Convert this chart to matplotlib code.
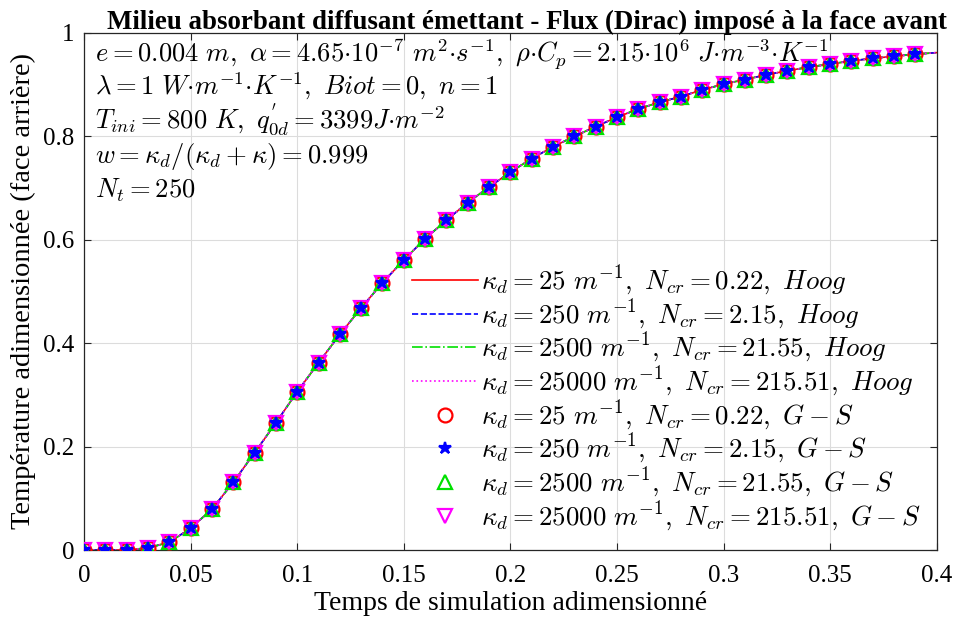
import numpy as np
import matplotlib
matplotlib.use("Agg")
import matplotlib.pyplot as plt

plt.rcParams['font.family'] = ['Liberation Serif', 'DejaVu Serif']
plt.rcParams['mathtext.fontset'] = 'cm'

#-------------- data --------------
# temps adimensionne (pas de 0.01)
t = np.round(np.arange(0, 0.405, 0.01), 2)
# Hoog (courbes) - les 4 kappa_d se superposent
theta_hoog = [0.0, 0.0, 0.0, 0.004, 0.015, 0.042, 0.079, 0.131, 0.188, 0.246,
              0.306, 0.362, 0.417, 0.468, 0.517, 0.561, 0.602, 0.638, 0.672, 0.702,
              0.731, 0.757, 0.780, 0.800, 0.819, 0.837, 0.853, 0.866, 0.877, 0.890,
              0.901, 0.910, 0.919, 0.927, 0.934, 0.940, 0.946, 0.951, 0.955, 0.959,
              0.962]
# Gaver-Stehfest (points), t = 0 .. 0.39
theta_gs = theta_hoog[:40]

kappa_d = [25, 250, 2500, 25000]
N_cr = ['0.22', '2.15', '21.55', '215.51']
line_colors = ['#ff0000', '#0000ff', '#00e000', '#ff00ff']
line_styles = ['-', '--', '-.', ':']
markers = ['o', '*', '^', 'v']
msizes = [10, 9, 10.5, 10.5]
zorders = [3, 6, 4, 5]

#-------------- figure --------------
fig = plt.figure(figsize=(9.57, 6.26), dpi=100)
ax = fig.add_axes([0.0878, 0.1214, 0.891, 0.8259])

for k in range(4):
    ax.plot(t, theta_hoog, color=line_colors[k], ls=line_styles[k], lw=1.2,
            label=r'$\kappa_d=%d\ m^{-1},\ N_{cr}=%s,\ Hoog$' % (kappa_d[k], N_cr[k]))
for k in range(4):
    filled = markers[k] == '*'
    ax.plot(t[:40], theta_gs, ls='none', marker=markers[k], ms=msizes[k],
            mec=line_colors[k], mfc=line_colors[k] if filled else 'none', mew=1.6,
            zorder=zorders[k],
            label=r'$\kappa_d=%d\ m^{-1},\ N_{cr}=%s,\ G-S$' % (kappa_d[k], N_cr[k]))

ax.set_xlim(0, 0.4)
ax.set_ylim(0, 1)
ax.set_xticks(np.arange(0, 0.401, 0.05))
ax.set_xticklabels(['0', '0.05', '0.1', '0.15', '0.2', '0.25', '0.3', '0.35', '0.4'])
ax.set_yticks(np.arange(0, 1.01, 0.2))
ax.set_yticklabels(['0', '0.2', '0.4', '0.6', '0.8', '1'])
ax.tick_params(direction='in', top=True, right=True, labelsize=18, length=5,
               color='#262626')
ax.tick_params(axis='x', pad=11)
ax.tick_params(axis='y', pad=7)
ax.grid(True, color='#dcdcdc', lw=0.8)
ax.set_axisbelow(True)
for s in ax.spines.values():
    s.set_color('#262626')
    s.set_linewidth(0.9)

ax.set_xlabel('Temps de simulation adimensionné', fontsize=20, labelpad=3)
ax.set_ylabel('Température adimensionnée (face arrière)', fontsize=20.5, labelpad=5)
ax.set_title('Milieu absorbant diffusant émettant - Flux (Dirac) imposé à la face avant',
             fontsize=19.4, fontweight='bold', pad=3, x=0.52)

info = [r'$e=0.004\ m,\ \alpha=4.65{\cdot}10^{-7}\ m^2{\cdot}s^{-1},\ \rho{\cdot}C_p=2.15{\cdot}10^6\ J{\cdot}m^{-3}{\cdot}K^{-1}$',
        r'$\lambda=1\ W{\cdot}m^{-1}{\cdot}K^{-1},\ Biot=0,\ n=1$',
        r"$T_{ini}=800\ K,\ q^{'}_{0d}=3399J{\cdot}m^{-2}$",
        r'$w=\kappa_d/(\kappa_d+\kappa)=0.999$',
        r'$N_t=250$']
ypos = [0.945, 0.880, 0.816, 0.749, 0.681]
for s, y in zip(info, ypos):
    ax.text(0.013, y, s, transform=ax.transAxes, fontsize=19.2, va='baseline', ha='left')

ax.legend(loc='lower right', bbox_to_anchor=(1.0, 0.0), frameon=False, fontsize=19.4,
          handlelength=2.45, handletextpad=0.1, labelspacing=-0.02, borderaxespad=0.2)

fig.savefig('out.png', dpi=100)
